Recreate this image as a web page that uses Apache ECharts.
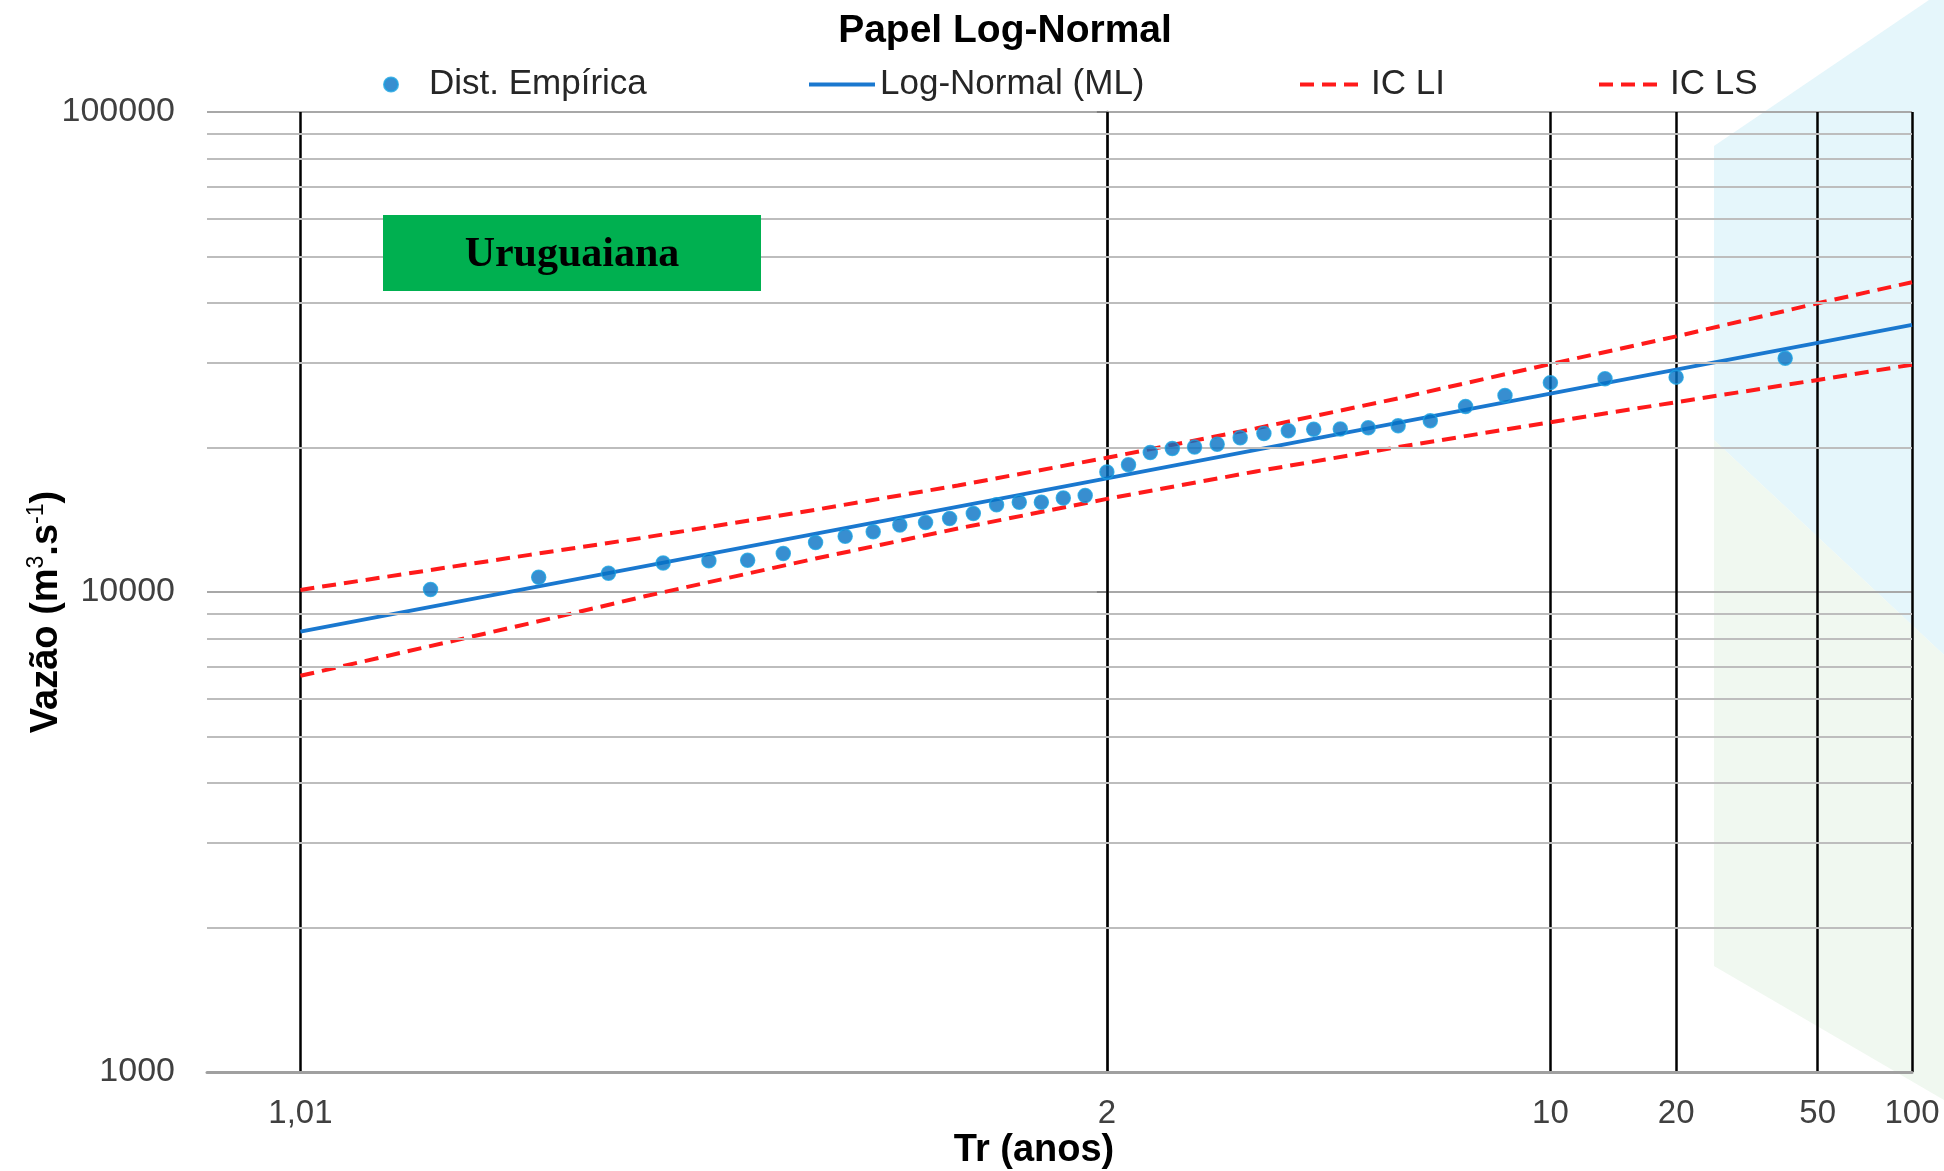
<!DOCTYPE html>
<html>
<head>
<meta charset="utf-8">
<title>Papel Log-Normal</title>
<script src="https://cdn.jsdelivr.net/npm/echarts@6/dist/echarts.min.js"></script>
<style>
  html, body { margin: 0; padding: 0; background: #fff; }
  #main { width: 1944px; height: 1171px; }
</style>
</head>
<body>
<div id="main"></div>
<script>
// tempo de retorno (anos) nas linhas verticais do papel
var trTicks = [1.01, 2, 10, 20, 50, 100];
var trTickLabels = ['1,01', '2', '10', '20', '50', '100'];
// linhas horizontais secundarias (eixo log)
var minorQ = [2000, 3000, 4000, 5000, 6000, 7000, 8000, 9000,
  20000, 30000, 40000, 50000, 60000, 70000, 80000, 90000];

// distribuicao empirica
var empTr = [1.026, 1.053, 1.081, 1.111, 1.143, 1.176, 1.212, 1.25, 1.29, 1.333,
  1.379, 1.429, 1.481, 1.538, 1.6, 1.667, 1.739, 1.818, 1.905, 2,
  2.105, 2.222, 2.353, 2.5, 2.667, 2.857, 3.077, 3.333, 3.636, 4,
  4.444, 5, 5.714, 6.667, 8, 10, 13.33, 20, 40];
var empQ = [10120, 10730, 10940, 11490, 11620, 11640, 12030, 12680, 13060, 13350,
  13790, 13950, 14230, 14570, 15200, 15380, 15380, 15700, 15890, 17780,
  18420, 19530, 19910, 20050, 20320, 20960, 21390, 21670, 21820, 21850,
  21990, 22210, 22750, 24340, 25660, 27300, 27820, 28030, 30700];

// ajuste log-normal (ML)
var mlTr = [1.01, 2, 10, 20, 50, 100];
var mlQ = [8270, 17240, 25900, 29050, 33050, 36000];

// intervalos de confianca
var ciTr = [1.01, 1.05, 1.1, 1.25, 1.5, 2, 3, 5, 10, 20, 50, 100];
var ciLS = [10100, 11950, 12990, 14840, 16670, 19040, 21920, 25320, 29850, 34080, 39950, 44200];
var ciLI = [6690, 8600, 9795, 11740, 13560, 15630, 17830, 20040, 22580, 24860, 27660, 29760];

var FONT = '"Liberation Sans", Arial, sans-serif';

// inversa da normal padrao (Acklam)
function invNorm(p) {
  var a = [-3.969683028665376e+01, 2.209460984245205e+02, -2.759285104469687e+02, 1.383577518672690e+02, -3.066479806614716e+01, 2.506628277459239e+00];
  var b = [-5.447609879822406e+01, 1.615858368580409e+02, -1.556989798598866e+02, 6.680131188771972e+01, -1.328068155288572e+01];
  var c = [-7.784894002430293e-03, -3.223964580411365e-01, -2.400758277161838e+00, -2.549732539343734e+00, 4.374664141464968e+00, 2.938163982698783e+00];
  var d = [7.784695709041462e-03, 3.224671290700398e-01, 2.445134137142996e+00, 3.754408661907416e+00];
  var pl = 0.02425, q, r;
  if (p < pl) {
    q = Math.sqrt(-2 * Math.log(p));
    return (((((c[0] * q + c[1]) * q + c[2]) * q + c[3]) * q + c[4]) * q + c[5]) / ((((d[0] * q + d[1]) * q + d[2]) * q + d[3]) * q + 1);
  }
  if (p > 1 - pl) {
    q = Math.sqrt(-2 * Math.log(1 - p));
    return -(((((c[0] * q + c[1]) * q + c[2]) * q + c[3]) * q + c[4]) * q + c[5]) / ((((d[0] * q + d[1]) * q + d[2]) * q + d[3]) * q + 1);
  }
  q = p - 0.5; r = q * q;
  return (((((a[0] * r + a[1]) * r + a[2]) * r + a[3]) * r + a[4]) * r + a[5]) * q / (((((b[0] * r + b[1]) * r + b[2]) * r + b[3]) * r + b[4]) * r + 1);
}
// variavel reduzida do papel de probabilidade
function zOf(tr) { return invNorm(1 - 1 / tr); }
function pairs(trs, qs) { return trs.map(function (t, i) { return [zOf(t), qs[i]]; }); }

var zTicks = trTicks.map(zOf);

var chart = echarts.init(document.getElementById('main'));
chart.setOption({
  animation: false,
  backgroundColor: '#fff',
  title: {
    text: 'Papel Log-Normal',
    left: 1000,
    top: 7,
    textAlign: 'center',
    textStyle: { fontSize: 39, fontWeight: 'bold', color: '#000', fontFamily: FONT }
  },
  legend: [
    { data: ['Dist. Empírica'], left: 378 },
    { data: ['Log-Normal (ML)'], left: 802, itemStyle: { opacity: 0 } },
    { data: ['IC LI'], left: 1293, itemStyle: { opacity: 0 } },
    { data: ['IC LS'], left: 1592, itemStyle: { opacity: 0 } }
  ].map(function (l) {
    l.top = 62;
    l.itemWidth = 66;
    l.itemHeight = 14;
    l.lineStyle = { width: 4 };
    l.textStyle = { fontSize: 35, color: '#262626', fontFamily: FONT };
    return l;
  }),
  grid: { left: 207, right: 32, top: 112, bottom: 99 },
  xAxis: {
    type: 'value',
    min: -2.6,
    max: zOf(100),
    z: 1.5,
    axisLine: { onZero: false, lineStyle: { color: '#a0a0a0', width: 3 } },
    axisTick: { show: false, customValues: zTicks },
    axisLabel: {
      customValues: zTicks,
      fontSize: 33,
      color: '#404040',
      fontFamily: FONT,
      margin: 25,
      formatter: function (v) {
        var best = 0;
        zTicks.forEach(function (z, i) { if (Math.abs(z - v) < Math.abs(zTicks[best] - v)) best = i; });
        return trTickLabels[best];
      }
    },
    splitLine: { show: true, lineStyle: { color: '#000', width: 2.5 } }
  },
  yAxis: {
    type: 'log',
    logBase: 10,
    min: 1000,
    max: 100000,
    axisLine: { show: true, lineStyle: { color: '#a0a0a0', width: 3 } },
    axisTick: { show: true, length: 10, lineStyle: { color: '#808080', width: 2 } },
    axisLabel: {
      fontSize: 34, color: '#404040', fontFamily: FONT, margin: 32,
      formatter: function (v) { return String(Math.round(v)); }
    },
    splitLine: { show: true, lineStyle: { color: '#a8a8a8', width: 2 } }
  },
  graphic: [
    // marca d'agua ao fundo
    { type: 'polygon', z: -10, silent: true,
      shape: { points: [[1714, 146], [1929, 0], [1944, 0], [1944, 655], [1714, 440]] },
      style: { fill: '#e5f6fb' } },
    { type: 'polygon', z: -10, silent: true,
      shape: { points: [[1714, 440], [1944, 655], [1944, 1100], [1714, 966]] },
      style: { fill: '#f0f8f0' } },
    // caixa da estacao
    { type: 'rect', z: 10, silent: true,
      shape: { x: 383, y: 215, width: 378, height: 76 },
      style: { fill: '#00b050' } },
    { type: 'text', z: 11, silent: true, x: 572, y: 255,
      style: { text: 'Uruguaiana', fill: '#000', fontSize: 42, fontWeight: 'bold',
        fontFamily: '"Liberation Serif", "Times New Roman", serif', align: 'center', verticalAlign: 'middle' } },
    // nomes dos eixos
    { type: 'text', z: 11, silent: true, x: 1034, y: 1151,
      style: { text: 'Tr (anos)', fill: '#000', fontSize: 38, fontWeight: 'bold', fontFamily: FONT,
        align: 'center', verticalAlign: 'middle' } },
    { type: 'text', z: 11, silent: true, x: 47, y: 612, rotation: Math.PI / 2,
      style: {
        text: '{b|Vazão (m}{s|3}{b|.s}{s|-1}{b|)}',
        align: 'center', verticalAlign: 'middle',
        rich: {
          b: { fontSize: 38, fontWeight: 'bold', fontFamily: FONT, fill: '#000', color: '#000', lineHeight: 44 },
          s: { fontSize: 23, fontFamily: FONT, fill: '#000', color: '#000', lineHeight: 26, verticalAlign: 'top' }
        }
      } }
  ],
  series: [
    {
      // linhas horizontais secundarias do papel
      name: 'grade',
      type: 'line',
      data: [],
      z: 1,
      silent: true,
      markLine: {
        silent: true,
        symbol: 'none',
        animation: false,
        label: { show: false },
        emphasis: { disabled: true },
        lineStyle: { type: 'solid', color: '#bdbdbd', width: 2 },
        data: minorQ.map(function (v) { return { yAxis: v }; })
      }
    },
    {
      name: 'IC LI',
      type: 'line',
      z: 3,
      symbol: 'none',
      data: pairs(ciTr, ciLI),
      lineStyle: { color: '#ff1a1a', width: 4, type: [14, 8] },
      itemStyle: { color: '#ff1a1a' }
    },
    {
      name: 'IC LS',
      type: 'line',
      z: 3,
      symbol: 'none',
      data: pairs(ciTr, ciLS),
      lineStyle: { color: '#ff1a1a', width: 4, type: [14, 8] },
      itemStyle: { color: '#ff1a1a' }
    },
    {
      name: 'Log-Normal (ML)',
      type: 'line',
      z: 4,
      symbol: 'none',
      data: pairs(mlTr, mlQ),
      lineStyle: { color: '#1a78cf', width: 3.8 },
      itemStyle: { color: '#1a78cf' }
    },
    {
      name: 'Dist. Empírica',
      type: 'scatter',
      z: 5,
      symbolSize: 14,
      data: pairs(empTr, empQ),
      itemStyle: { color: '#0672c4', borderColor: '#1ca0e0', borderWidth: 1.5 }
    }
  ]
});
</script>
</body>
</html>
